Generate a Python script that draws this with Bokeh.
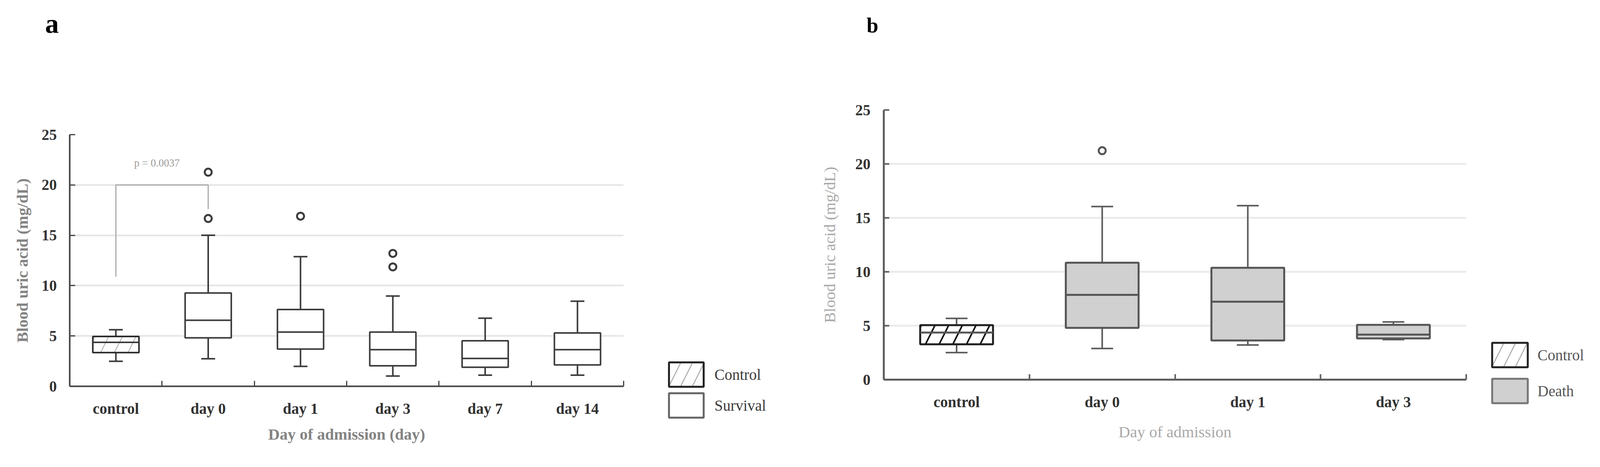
from bokeh.plotting import figure
from bokeh.layouts import row, column
from bokeh.models import Range1d, FixedTicker, Legend, LegendItem, Label, Spacer
from bokeh.core.properties import value
from bokeh.embed import file_html
from bokeh.resources import INLINE

# ---------------- data: panel a (survival) ----------------
cats_a = ["control", "day 0", "day 1", "day 3", "day 7", "day 14"]
low_a = [2.48, 2.74, 1.98, 1.02, 1.11, 1.11]
q1_a = [3.35, 4.81, 3.70, 2.04, 1.89, 2.13]
med_a = [4.37, 6.56, 5.39, 3.64, 2.77, 3.64]
q3_a = [4.95, 9.27, 7.63, 5.39, 4.52, 5.30]
high_a = [5.62, 15.0, 12.88, 8.97, 6.76, 8.45]
out_cat_a = ["day 0", "day 0", "day 1", "day 3", "day 3"]
out_val_a = [16.67, 21.27, 16.9, 11.86, 13.2]
groups_a = ["Control", "Survival"]

# ---------------- data: panel b (death) ----------------
cats_b = ["control", "day 0", "day 1", "day 3"]
low_b = [2.51, 2.89, 3.22, 3.71]
q1_b = [3.28, 4.80, 3.63, 3.82]
med_b = [4.37, 7.86, 7.23, 4.18]
q3_b = [5.05, 10.84, 10.37, 5.08]
high_b = [5.68, 16.05, 16.13, 5.35]
out_cat_b = ["day 0"]
out_val_b = [21.23]
groups_b = ["Control", "Death"]

y_ticks = [0, 5, 10, 15, 20, 25]
p_text = "p = 0.0037"
p_pair = ["control", "day 0"]
p_levels = [10.9, 20.0, 17.6]   # left foot, bracket top, right foot
p_label_y = 22.2

SERIF = "Liberation Serif"
HEAD_H = 120
FIG_H = 1050


def blank(W, H):
    f = figure(width=W, height=H, output_backend="svg", toolbar_location=None,
               x_range=Range1d(0, W), y_range=Range1d(H, 0),
               x_axis_location=None, y_axis_location=None,
               min_border=0, min_border_left=0, min_border_right=0,
               min_border_top=0, min_border_bottom=0, frame_align=False)
    f.outline_line_color = None
    f.grid.visible = False
    return f


def header(letter, W, x, y, size):
    h = blank(W, HEAD_H)
    h.text(x=[x], y=[y], text=[letter], text_font=value(SERIF), text_font_style="bold",
           text_font_size=size, text_color="#000000", text_baseline="alphabetic",
           text_align="left")
    return h


def box_styles(st):
    ctrl = dict(fill_color="white", line_color=st["ctrl_line"], line_width=st["ctrl_lw"],
                hatch_pattern="/", hatch_color=st["hatch"], hatch_weight=st["hatch_w"],
                hatch_scale=st["hatch_s"])
    grp = dict(fill_color=st["fill"], line_color=st["box"], line_width=st["box_w"])
    return ctrl, grp


def legend_fig(groups, st, W, H, loc, gw, gh, sp, standoff):
    f = blank(W, H)
    ctrl = dict(fill_color="white", line_color="#222222", line_width=5,
                hatch_pattern="/", hatch_color="#a8a8a8", hatch_weight=2.5, hatch_scale=60)
    grp = dict(fill_color=st["fill"], line_color=st["leg_box"], line_width=5)
    # tiny swatch renderers placed under the legend's own swatches (hidden by them)
    cx = loc[0] + gw / 2
    bottom = H - loc[1]
    cy2 = bottom - gh / 2
    cy1 = bottom - gh - sp - gh / 2
    r1 = f.vbar(x=[cx], width=1, bottom=[cy1], top=[cy1 + 1], **ctrl)
    r2 = f.vbar(x=[cx], width=1, bottom=[cy2], top=[cy2 + 1], **grp)
    lg = Legend(items=[LegendItem(label=groups[0], renderers=[r1]),
                       LegendItem(label=groups[1], renderers=[r2])],
                location=loc, glyph_width=gw, glyph_height=gh,
                spacing=sp, label_standoff=standoff, padding=0, margin=0,
                border_line_color=None, background_fill_alpha=0,
                label_text_font=SERIF, label_text_font_size="39px",
                label_text_color=st["leg_color"], label_height=gh)
    f.add_layout(lg)
    return f


def make_panel(cats, low, q1, med, q3, high, out_cat, out_val,
               xtitle, st, W, H, bl, br, bt, bb):
    n = len(cats)
    xs = list(range(n))
    p = figure(width=W, height=H, output_backend="svg", toolbar_location=None,
               x_range=Range1d(-0.5, n - 0.5), y_range=Range1d(0, 25),
               min_border_left=bl, min_border_right=br, min_border_top=bt,
               min_border_bottom=bb, frame_align=False)
    p.outline_line_color = None
    p.background_fill_color = "white"
    p.xgrid.visible = False
    p.ygrid.ticker = FixedTicker(ticks=y_ticks)
    p.ygrid.grid_line_color = st["grid"]
    p.ygrid.grid_line_width = st["grid_w"]

    ya = p.yaxis[0]
    ya.ticker = FixedTicker(ticks=y_ticks)
    ya.axis_line_color = st["axis"]
    ya.axis_line_width = st["axis_w"]
    ya.major_tick_line_color = st["axis"]
    ya.major_tick_line_width = st["axis_w"] - 1
    ya.major_tick_in = 14
    ya.major_tick_out = 0
    ya.minor_tick_line_color = None
    ya.major_label_text_font = SERIF
    ya.major_label_text_font_style = "bold"
    ya.major_label_text_font_size = "39px"
    ya.major_label_text_color = "#333333"
    ya.major_label_standoff = st["ystand"]
    ya.axis_label = "Blood uric acid (mg/dL)"
    ya.axis_label_text_font = SERIF
    ya.axis_label_text_font_style = st["title_style"]
    ya.axis_label_text_font_size = "41px"
    ya.axis_label_text_color = st["title_color"]
    ya.axis_label_standoff = st["ytstand"]

    xa = p.xaxis[0]
    xa.ticker = FixedTicker(ticks=xs, minor_ticks=[i + 0.5 for i in xs])
    xa.major_label_overrides = {i: c for i, c in zip(xs, cats)}
    xa.axis_line_color = st["axis"]
    xa.axis_line_width = st["axis_w"]
    xa.major_tick_line_color = None
    xa.minor_tick_line_color = st["axis"]
    xa.minor_tick_line_width = st["axis_w"] - 1
    xa.minor_tick_in = 14
    xa.minor_tick_out = 0
    xa.major_label_text_font = SERIF
    xa.major_label_text_font_style = "bold"
    xa.major_label_text_font_size = "39px"
    xa.major_label_text_color = "#333333"
    xa.major_label_standoff = st["xstand"]
    xa.axis_label = xtitle
    xa.axis_label_text_font = SERIF
    xa.axis_label_text_font_style = st["title_style"]
    xa.axis_label_text_font_size = "41px"
    xa.axis_label_text_color = st["title_color"]
    xa.axis_label_standoff = st["xtstand"]

    hw = 0.25
    cw = 0.075
    p.segment(x0=xs, y0=q3, x1=xs, y1=high, line_color=st["wh"], line_width=st["wh_w"])
    p.segment(x0=xs, y0=low, x1=xs, y1=q1, line_color=st["wh"], line_width=st["wh_w"])
    p.segment(x0=[x - cw for x in xs], y0=high, x1=[x + cw for x in xs], y1=high,
              line_color=st["wh"], line_width=st["wh_w"])
    p.segment(x0=[x - cw for x in xs], y0=low, x1=[x + cw for x in xs], y1=low,
              line_color=st["wh"], line_width=st["wh_w"])

    ctrl, grp = box_styles(st)
    p.vbar(x=xs[:1], width=2 * hw, bottom=q1[:1], top=q3[:1], **ctrl)
    p.vbar(x=xs[1:], width=2 * hw, bottom=q1[1:], top=q3[1:], **grp)
    p.segment(x0=[x - hw for x in xs], y0=med, x1=[x + hw for x in xs], y1=med,
              line_color=st["box"], line_width=st["box_w"])
    ox = [cats.index(c) for c in out_cat]
    p.scatter(x=ox, y=out_val, marker="circle", size=st["out_size"],
              fill_color="white", line_color=st["box"], line_width=st["out_w"])
    return p


style_a = dict(grid="#e4e4e4", grid_w=4, axis="#444444", axis_w=4, ystand=33, ytstand=24,
               xstand=29, xtstand=18, title_style="bold", title_color="#838383",
               wh="#3c3c3c", wh_w=4, ctrl_line="#2a2a2a", ctrl_lw=4, hatch="#a8a8a8",
               hatch_w=2, hatch_s=70, fill="white", box="#3c3c3c", box_w=4,
               out_size=18, out_w=5, leg_color="#3a3a3a", leg_box="#666666")
style_b = dict(grid="#ebebeb", grid_w=5, axis="#5e5e5e", axis_w=5, ystand=34, ytstand=40,
               xstand=29, xtstand=29, title_style="normal", title_color="#a8a8a8",
               wh="#5a5a5a", wh_w=4, ctrl_line="#1e1e1e", ctrl_lw=5, hatch="#111111",
               hatch_w=4, hatch_s=70, fill="#d0d0d0", box="#555555", box_w=5,
               out_size=18, out_w=5, leg_color="#555555", leg_box="#777777")

# ---- panel a ----
WA, WLA = 1690, 376
head_a = header("a", WA, 115, 60, "70px")
pa = make_panel(cats_a, low_a, q1_a, med_a, q3_a, high_a, out_cat_a, out_val_a,
                "Day of admission (day)", style_a,
                W=WA, H=FIG_H, bl=178, br=WA - 178 - 1418, bt=224, bb=FIG_H - 224 - 644)
i0, i1 = cats_a.index(p_pair[0]), cats_a.index(p_pair[1])
pa.line(x=[i0, i0, i1, i1], y=[p_levels[0], p_levels[1], p_levels[1], p_levels[2]],
        line_color="#ababab", line_width=3)
pa.add_layout(Label(x=(i0 + i1) / 2, y=p_label_y, x_offset=-13, text=p_text,
                    text_font=SERIF, text_font_size="27px", text_color="#9a9a9a",
                    text_align="center", text_baseline="middle"))
leg_a = legend_fig(groups_a, style_a, WLA, 200, (11, 16), 111, 78, 1, 17)

# ---- panel b ----
WB, WLB = 1736, 320
head_b = header("b", WB, 152, 64, "54px")
pb = make_panel(cats_b, low_b, q1_b, med_b, q3_b, high_b, out_cat_b, out_val_b,
                "Day of admission", style_b,
                W=WB, H=FIG_H, bl=196, br=WB - 196 - 1491, bt=161, bb=FIG_H - 161 - 690)
leg_b = legend_fig(groups_b, style_b, WLB, 220, (6, 23), 114, 78, 14, 14)

layout = row(column(head_a, pa, spacing=0),
             column(Spacer(width=WLA, height=892), leg_a, spacing=0),
             column(head_b, pb, spacing=0),
             column(Spacer(width=WLB, height=842), leg_b, spacing=0),
             spacing=0)
open("out.html", "w").write(file_html(layout, INLINE))
